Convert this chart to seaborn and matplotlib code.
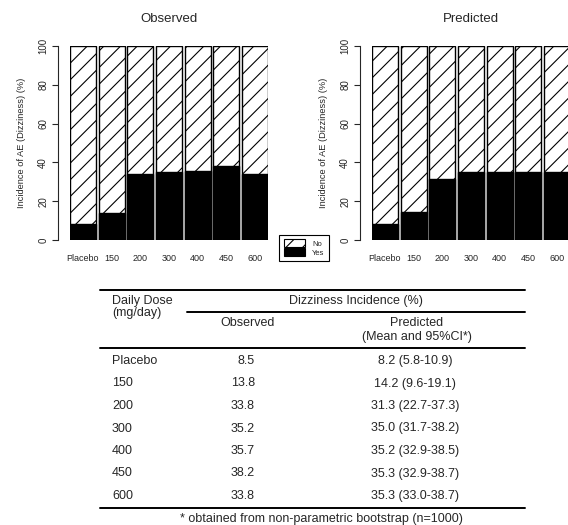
import matplotlib
matplotlib.use("Agg")
import numpy as np
import pandas as pd
import matplotlib.pyplot as plt
import seaborn as sns
from matplotlib.patches import Patch
from matplotlib.lines import Line2D

# data
doses = ["Placebo", "150", "200", "300", "400", "450", "600"]
observed = [8.5, 13.8, 33.8, 35.2, 35.7, 38.2, 33.8]
predicted = [8.2, 14.2, 31.3, 35.0, 35.2, 35.3, 35.3]
pred_lo = [5.8, 9.6, 22.7, 31.7, 32.9, 32.9, 33.0]
pred_hi = [10.9, 19.1, 37.3, 38.2, 38.5, 38.7, 38.7]
total = [100] * len(doses)
y_ticks = [0, 20, 40, 60, 80, 100]

sns.set_style("white")
plt.rcParams['font.family'] = ['Liberation Sans', 'DejaVu Sans']
plt.rcParams['hatch.linewidth'] = 0.8
plt.rcParams['hatch.color'] = 'black'

W, H = 568, 525
fig = plt.figure(figsize=(W / 100, H / 100), dpi=100)


def draw_panel(left_px, values, title):
    """Stacked Yes/No bar panel in R barplot style."""
    ax = fig.add_axes([left_px / W, 1 - 240 / H, 198 / W, 194 / H])
    df = pd.DataFrame({"dose": doses, "yes": values, "total": total})
    # full bar = "No" (hatched), then the "Yes" part in black on top
    sns.barplot(data=df, x="dose", y="total", order=doses, color="white",
                edgecolor="black", linewidth=1.0, hatch="//", width=0.9,
                saturation=1, errorbar=None, ax=ax)
    sns.barplot(data=df, x="dose", y="yes", order=doses, color="black",
                edgecolor="black", linewidth=1.0, width=0.9,
                saturation=1, errorbar=None, ax=ax)
    ax.set_xlim(-0.45, 6.45)
    ax.set_ylim(0, 100)
    for s in ["top", "right", "bottom"]:
        ax.spines[s].set_visible(False)
    ax.spines["left"].set_position(("outward", 12 * 0.72))
    ax.spines["left"].set_linewidth(0.8)
    ax.spines["left"].set_bounds(0, 100)
    ax.set_yticks(y_ticks)
    ax.set_yticklabels([str(t) for t in y_ticks], rotation=90, va="center",
                       fontsize=7)
    ax.tick_params(axis="y", length=4, width=0.8, pad=3, left=True)
    ax.tick_params(axis="x", length=0, pad=10, labelsize=6.5)
    ax.set_xlabel("")
    ax.set_ylabel("Incidence of AE (Dizziness) (%)", fontsize=6.7)
    ax.yaxis.set_label_coords(-44 / 198, 0.5)
    ax.set_title(title, fontsize=9.5, pad=17)
    return ax


draw_panel(70, observed, "Observed")
draw_panel(372, predicted, "Predicted")

# legend between the panels
handles = [Patch(facecolor="white", edgecolor="black", hatch="//", linewidth=0.8),
           Patch(facecolor="black", edgecolor="black", linewidth=0.8)]
leg = fig.legend(handles, ["No", "Yes"], loc="center",
                 bbox_to_anchor=(304 / W, 1 - 248 / H), fontsize=5.5,
                 frameon=True, fancybox=False, edgecolor="black",
                 framealpha=1, labelspacing=0.0, handlelength=2.8,
                 handleheight=1.25, handletextpad=0.9, borderpad=0.6,
                 borderaxespad=0)
leg.get_frame().set_linewidth(0.8)

# table below the charts, drawn in pixel coordinates
tab = fig.add_axes([0, 0, 1, 1], zorder=-1)
tab.set_xlim(0, W)
tab.set_ylim(H, 0)
tab.axis("off")

fs = 9
lw = 1.4
tab.add_line(Line2D([100, 525], [290, 290], color="black", lw=lw))
tab.add_line(Line2D([187, 525], [312, 312], color="black", lw=lw))
tab.add_line(Line2D([100, 525], [348, 348], color="black", lw=lw))
tab.add_line(Line2D([100, 525], [508, 508], color="black", lw=lw))

tab.text(112, 301, "Daily Dose", fontsize=fs, va="center", ha="left")
tab.text(112, 313, "(mg/day)", fontsize=fs, va="center", ha="left")
tab.text(356, 301, "Dizziness Incidence (%)", fontsize=fs, va="center",
         ha="center")
tab.text(248, 323, "Observed", fontsize=fs, va="center", ha="center")
tab.text(417, 323, "Predicted", fontsize=fs, va="center", ha="center")
tab.text(417, 337, "(Mean and 95%CI*)", fontsize=fs, va="center",
         ha="center")

row_y = 361
row_step = 22.5
for i, d in enumerate(doses):
    y = row_y + i * row_step
    tab.text(112, y, d, fontsize=fs, va="center", ha="left")
    tab.text(255, y, f"{observed[i]:.1f}", fontsize=fs, va="center",
             ha="right")
    tab.text(415, y, f"{predicted[i]:.1f} ({pred_lo[i]:.1f}-{pred_hi[i]:.1f})",
             fontsize=fs, va="center", ha="center")

tab.text(180, 519, "* obtained from non-parametric bootstrap (n=1000)",
         fontsize=fs, va="center", ha="left")

fig.savefig("out.png", dpi=100)
